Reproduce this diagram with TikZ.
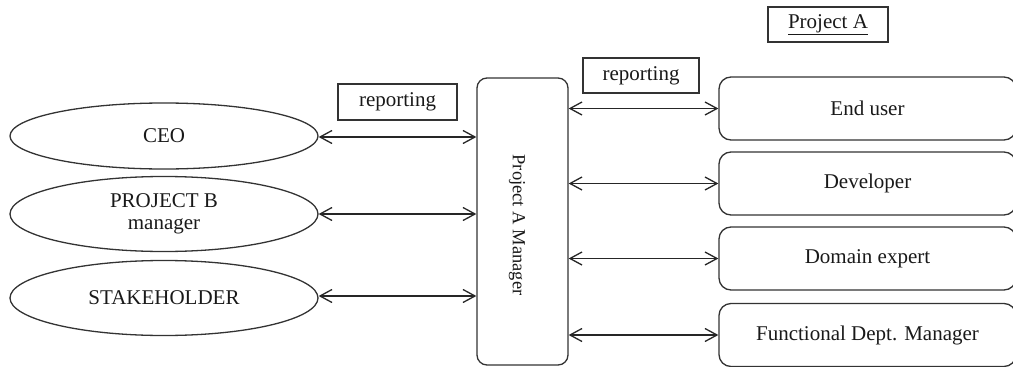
\documentclass[tikz,border=0pt]{standalone}
\usepackage{fontspec}
\setmainfont{Liberation Serif}
\usetikzlibrary{shapes.geometric,arrows.meta}
\begin{document}
\begin{tikzpicture}[x=1pt,y=-1pt,
  every node/.style={inner sep=0pt, font=\fontsize{21}{22}\selectfont, text=black!90},
  ell/.style={draw=black!80, line width=1.3pt, ellipse, minimum width=308pt},
  lbl/.style={draw=black!80, line width=1.3pt, rectangle},
  rbox/.style={draw=black!80, line width=1.3pt, rounded corners=12pt, minimum width=297pt, minimum height=63pt},
  conn/.style={draw=black!85, line width=1.3pt, {Straight Barb[length=12pt,width=13pt]}-{Straight Barb[length=12pt,width=13pt]}}
]
\useasboundingbox (0,0) rectangle (1013,367);
\clip (0,0) rectangle (1013,367);
% left ellipses
\node[ell, minimum height=66pt] (ceo) at (164,136) {CEO};
\node[ell, minimum height=75pt, align=center, font=\fontsize{21}{22}\selectfont] (pb) at (164,214) {PROJECT B\\manager};
\node[ell, minimum height=75pt] (sh) at (164,298) {STAKEHOLDER};
% labels
\node[lbl, minimum width=119pt, minimum height=36pt] (rep1) at (397.5,102) {reporting};
\node[lbl, minimum width=116pt, minimum height=35pt] (rep2) at (641,75.5) {reporting};
\node[lbl, minimum width=120pt, minimum height=35pt] (pa) at (828,24.5) {\underline{Project A}};
% manager
\node[draw=black!80, line width=1.3pt, rounded corners=10pt, minimum width=91pt, minimum height=287pt] (mgr) at (522.5,221.5) {};
\node[rotate=-90, font=\fontsize{18.5}{20}\selectfont] (mgrt) at (517,225) {Project A Manager};
% right boxes
\node[rbox] (eu) at (867.5,108.5) {End user};
\node[rbox] (dev) at (867.5,183.5) {Developer};
\node[rbox] (dom) at (867.5,258.5) {Domain expert};
\node[rbox] (fdm) at (867.5,335) {Functional Dept. Manager};
% connectors left
\draw[conn] (ceo.east |- 0,137) -- (mgr.west |- 0,137);
\draw[conn] (pb.east) -- (mgr.west |- pb.east);
\draw[conn] (sh.east |- 0,296) -- (mgr.west |- 0,296);
% connectors right
\draw[conn] (mgr.east |- eu.west) -- (eu.west);
\draw[conn] (mgr.east |- dev.west) -- (dev.west);
\draw[conn] (mgr.east |- dom.west) -- (dom.west);
\draw[conn] (mgr.east |- fdm.west) -- (fdm.west);
\end{tikzpicture}
\end{document}
